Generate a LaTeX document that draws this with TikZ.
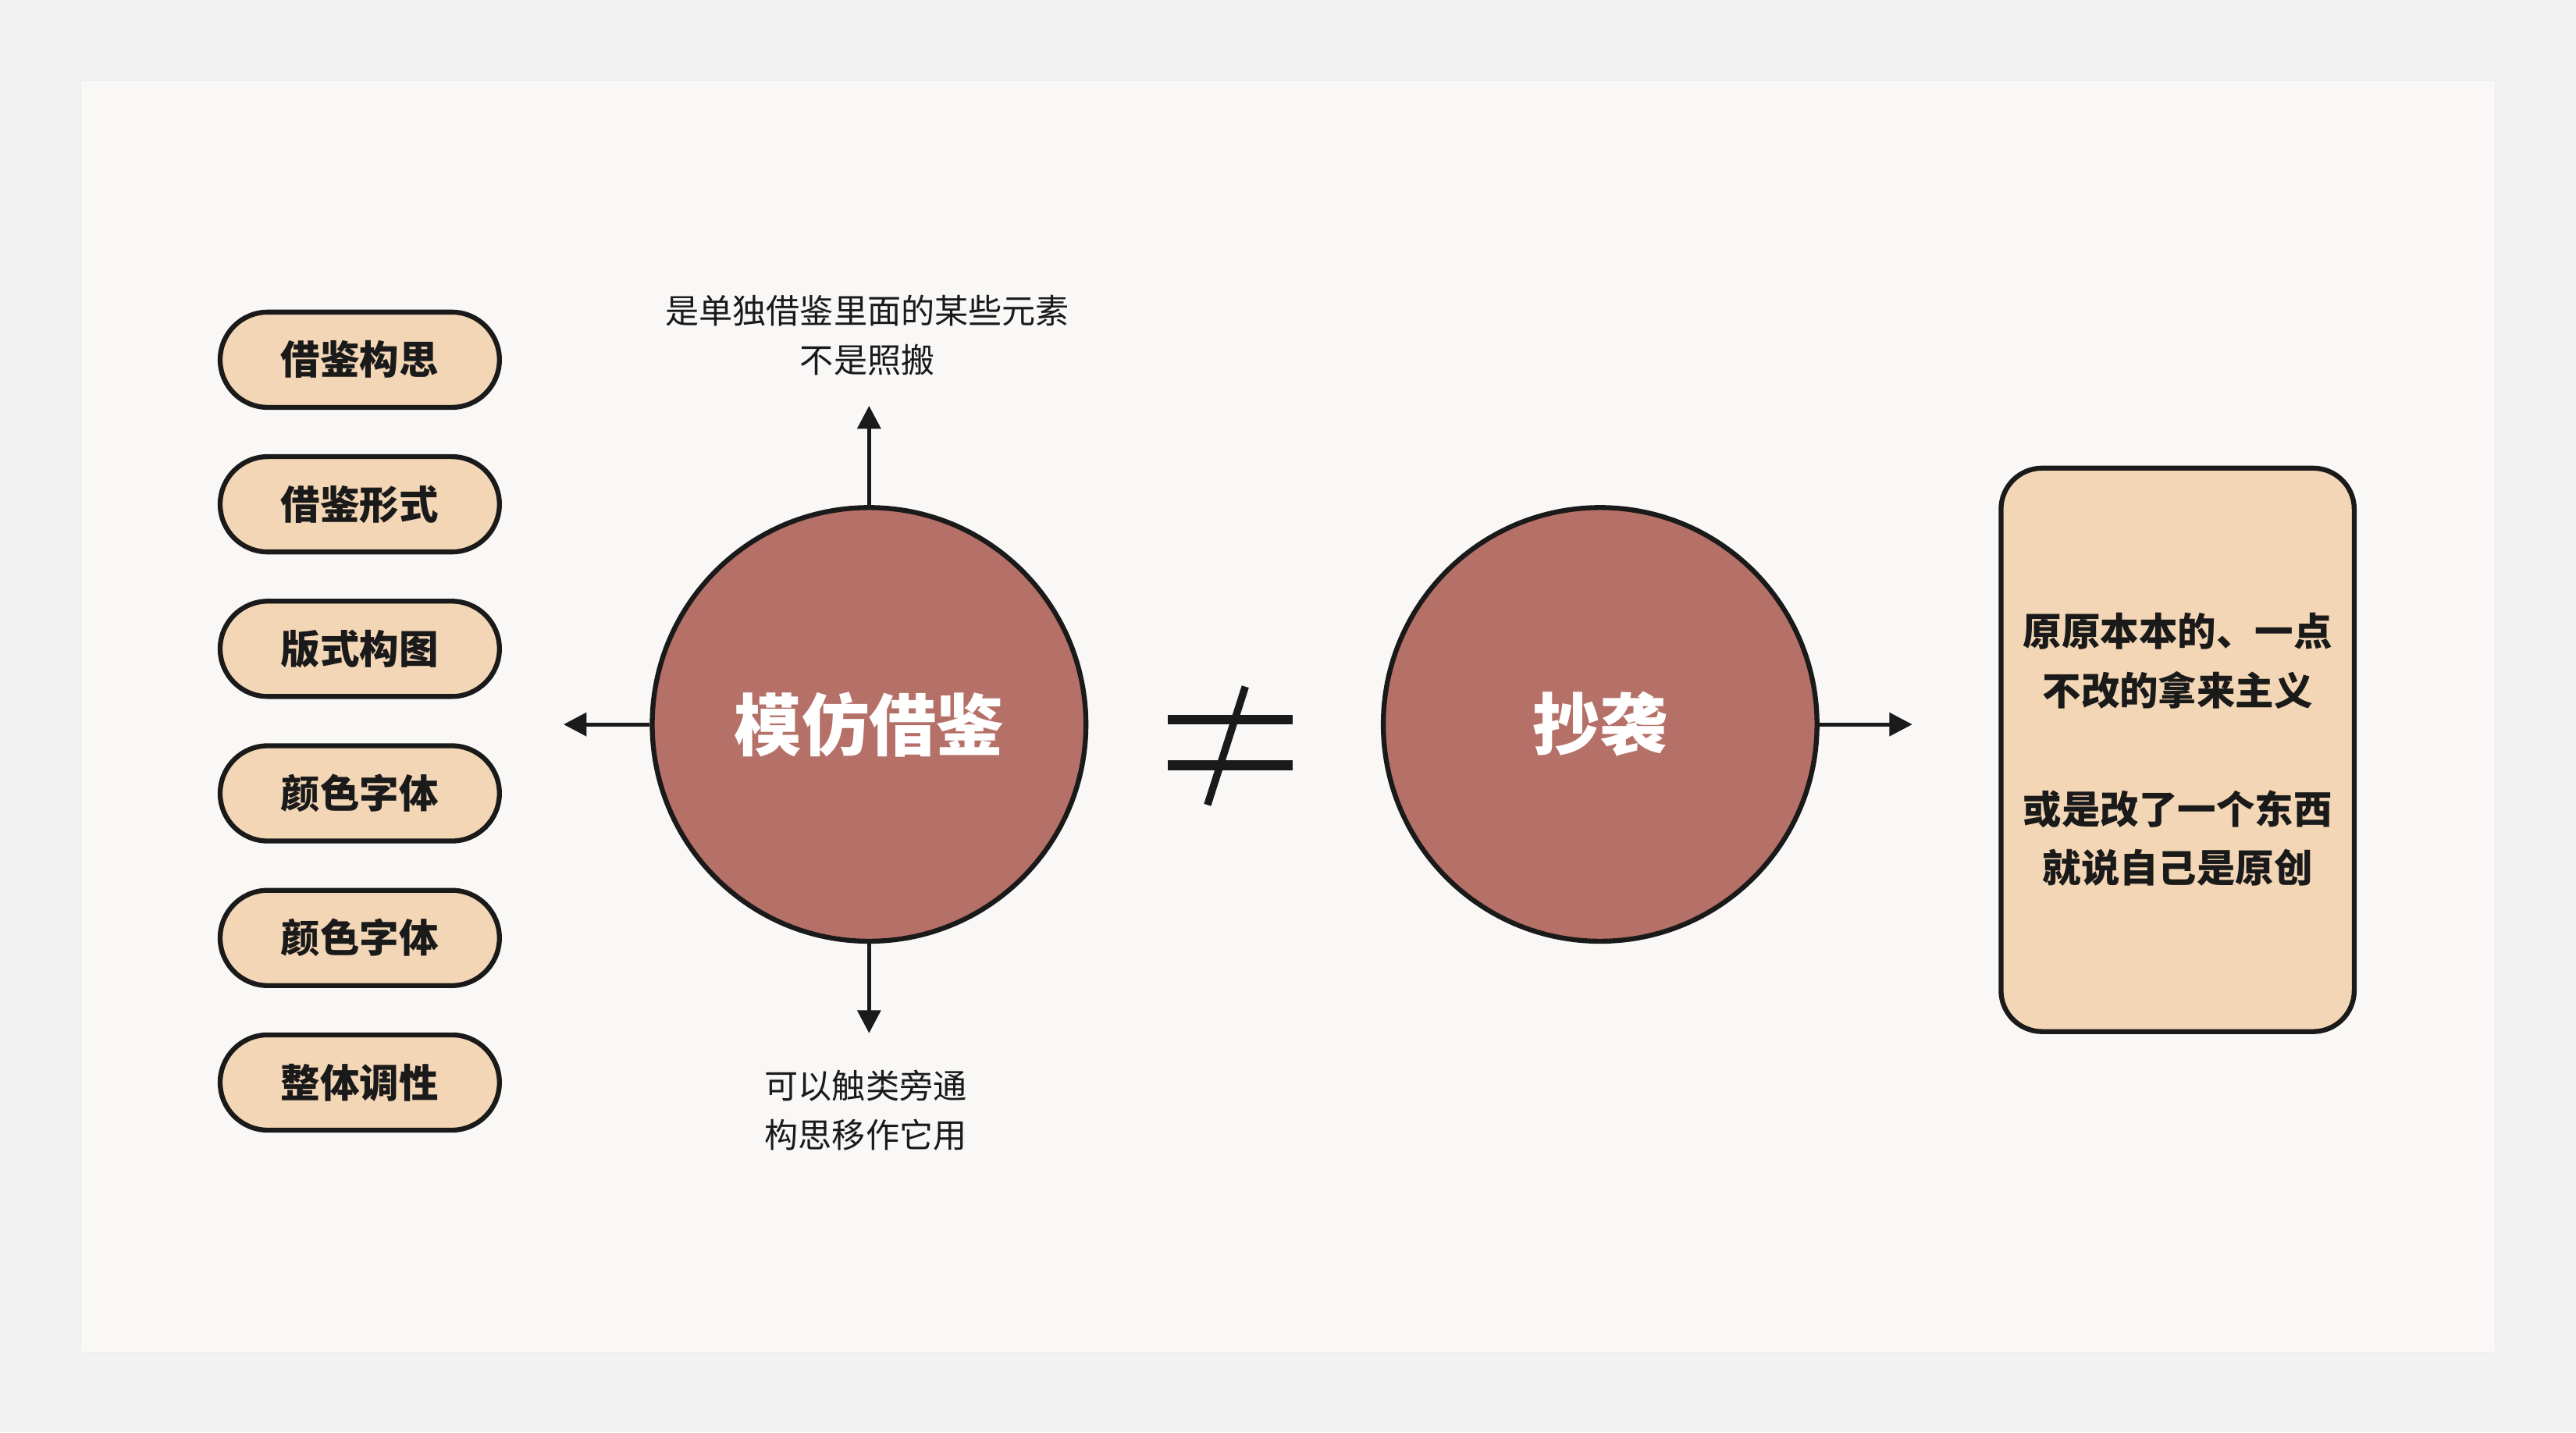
\documentclass[tikz,border=0pt]{standalone}
\usepackage{fontspec}
\setmainfont{Noto Sans CJK SC}
\usetikzlibrary{arrows.meta}
\definecolor{outerbg}{HTML}{F2F2F2}
\definecolor{card}{HTML}{F9F8F6}
\definecolor{pill}{HTML}{F3D6B5}
\definecolor{circ}{HTML}{B57168}
\definecolor{ink}{HTML}{1A1A1A}
\tikzset{
  pillbox/.style={draw=ink,line width=3pt,fill=pill,rounded corners=29pt,minimum width=170pt,minimum height=58pt,font=\fontsize{24}{28}\selectfont\bfseries,text=ink,inner sep=0pt},
  bigcirc/.style={circle,draw=ink,line width=3pt,fill=circ,minimum size=264pt,inner sep=0pt,text=white,font=\fontsize{41}{46}\selectfont\bfseries},
  arr/.style={line width=2.5pt,draw=ink,-{Triangle[length=14pt,width=14pt]}},
  note/.style={font=\fontsize{20.5}{30}\selectfont,text=ink,align=center},
  neq/.style={line width=6pt,draw=ink},
}
\begin{document}
\begin{tikzpicture}[x=1pt,y=-1pt]
\fill[outerbg] (0,0) rectangle (1568,872);
\useasboundingbox (0,0) rectangle (1568,872);
\fill[card,draw=black!8] (49,49) rectangle (1519,823);
\foreach \y/\t [count=\i] in {219/借鉴构思,307/借鉴形式,395/版式构图,483/颜色字体,571/颜色字体,659/整体调性}
  \node[pillbox] (p\i) at (219,\y) {\t};
\node[bigcirc] (c1) at (529,441) {模仿借鉴};
\node[bigcirc] (c2) at (974,441) {抄袭};
\coordinate (up) at (529,247);
\coordinate (dn) at (529,629);
\coordinate (lf) at (343,441);
\coordinate (rt) at (1164,441);
\draw[arr] (c1.north) -- (up);
\draw[arr] (c1.south) -- (dn);
\draw[arr] (c1.west) -- (lf);
\draw[arr] (c2.east) -- (rt);
\node[note] (tn) at (528,204) {是单独借鉴里面的某些元素\\不是照搬};
\node[note] (bn) at (527,676) {可以触类旁通\\构思移作它用};
\coordinate (n1a) at (711,438); \coordinate (n1b) at (787,438);
\coordinate (n2a) at (711,466); \coordinate (n2b) at (787,466);
\coordinate (n3a) at (758,418); \coordinate (n3b) at (735,490);
\draw[neq] (n1a) -- (n1b);
\draw[neq] (n2a) -- (n2b);
\draw[line width=4.5pt,draw=ink] (n3a) -- (n3b);
\node[draw=ink,line width=3pt,fill=pill,rounded corners=25pt,minimum width=215pt,minimum height=343pt,align=center,font=\fontsize{23.5}{36}\selectfont\bfseries,text=ink] (box) at (1325.5,456.5) {原原本本的、一点\\不改的拿来主义\\[36pt]或是改了一个东西\\就说自己是原创};
\end{tikzpicture}
\end{document}
